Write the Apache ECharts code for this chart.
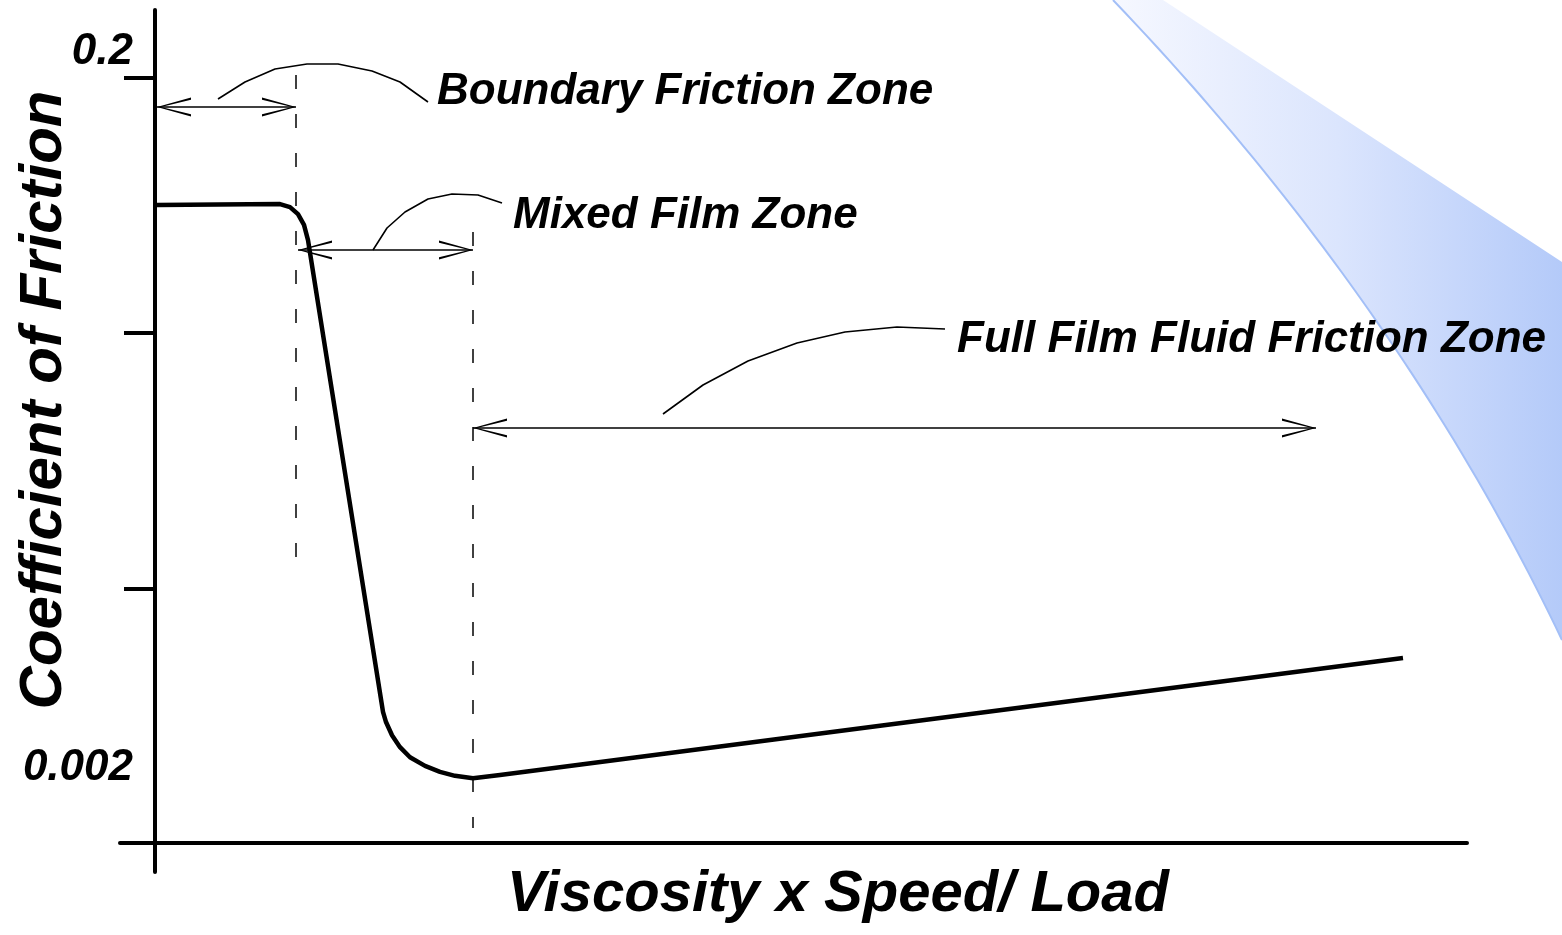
<!DOCTYPE html>
<html>
<head>
<meta charset="utf-8">
<title>Coefficient of Friction</title>
<script src="https://cdn.jsdelivr.net/npm/echarts@6.0.0/dist/echarts.min.js"></script>
<style>
  html, body { margin: 0; padding: 0; background: #fff; }
  #chart { width: 1562px; height: 935px; }
</style>
</head>
<body>
<div id="chart"></div>
<script>
// Stribeck curve: x in arbitrary units, y = coefficient of friction (log)
const curveX = [0.2, 12.5, 13.5, 14.3, 14.9, 15.3, 22.8, 23.1, 23.7, 24.5, 25.5, 27.0, 28.5, 30.0, 31.8, 34.5, 124.8]
const curveMu = [0.0857, 0.0862, 0.0845, 0.0806, 0.075, 0.0678, 0.00291, 0.00272, 0.00249, 0.0023, 0.00215, 0.00203, 0.00195, 0.0019, 0.00187, 0.00191, 0.00417]

// y axis ticks and labels
const tickValues = [0.2, 0.0365, 0.0066]
const tickLabelValues = [0.2, 0.002]
const tickLabels = ['0.2', '0.002']

// annotations (second, hidden y axis in arbitrary units)
const zoneX = [14.1, 31.8]
const zoneTop = [79.7, 64.0]
const zoneBottom = [29.4, 4.4]

const arrowFrom = [0.2, 14.3, 31.8]
const arrowTo = [14.1, 31.8, 116.1]
const arrowY = [76.5, 62.2, 44.4]

const leader1X = [6.3, 9.0, 12.0, 15.2, 18.3, 21.7, 24.5, 27.3]
const leader1Y = [77.3, 79.0, 80.3, 80.8, 80.8, 80.1, 79.0, 77.0]
const leader2X = [21.8, 23.2, 25.0, 27.3, 29.7, 32.3, 34.7]
const leader2Y = [62.2, 64.4, 66.0, 67.3, 67.8, 67.7, 66.9]
const leader3X = [50.8, 54.8, 59.3, 64.2, 69.0, 74.2, 79.0]
const leader3Y = [45.8, 48.7, 51.1, 52.9, 54.0, 54.5, 54.3]

const zoneNames = ['Boundary Friction Zone', 'Mixed Film Zone', 'Full Film Fluid Friction Zone']
const zoneLabelX = [28.2, 35.8, 80.2]
const zoneLabelY = [78.0, 65.6, 53.2]

const FONT = 'Liberation Sans, Arial, sans-serif'
const chevron = 'path://M50,0 L100,100 L88,100 L50,12 L12,100 L0,100 Z'

const zip = (xs, ys) => xs.map((x, i) => [x, ys[i]])

// decorative blue swoosh at the right
const band = []
for (let i = 0; i <= 50; i++) {
  const t = i / 50
  band.push([
    (1 - t) * (1 - t) * 1113 + 2 * (1 - t) * t * 1400 + t * t * 1562,
    2 * (1 - t) * t * 300 + t * t * 640
  ])
}

const chart = echarts.init(document.getElementById('chart'), null, { renderer: 'canvas' })

const leaderStyle = { color: '#000', width: 1.6 }

chart.setOption({
  animation: false,
  backgroundColor: '#fff',
  graphic: [
    {
      type: 'polygon',
      z: -1,
      silent: true,
      shape: { points: band.concat([[1562, 262], [1163, 0]]) },
      style: {
        fill: new echarts.graphic.LinearGradient(0, 0, 1, 0, [
          { offset: 0, color: '#f6f8ff' },
          { offset: 0.5, color: '#dbe5fd' },
          { offset: 1, color: '#b4caf9' }
        ])
      }
    },
    {
      type: 'polyline',
      z: -1,
      silent: true,
      shape: { points: band },
      style: { stroke: '#a3bff7', lineWidth: 2, fill: null }
    }
  ],
  grid: { left: 120, right: 95, top: 10, bottom: 63, containLabel: false, outerBoundsMode: 'none' },
  xAxis: {
    type: 'value',
    min: -3.5,
    max: 131.2,
    offset: -29,
    axisLine: { onZero: false, lineStyle: { color: '#000', width: 4 } },
    axisTick: { show: false },
    axisLabel: { show: false },
    splitLine: { show: false },
    name: 'Viscosity x Speed/ Load',
    nameLocation: 'middle',
    nameGap: 23,
    nameMoveOverlap: false,
    nameTextStyle: {
      fontFamily: FONT, fontSize: 58, fontWeight: 'bold', fontStyle: 'italic',
      color: '#000', padding: [0, 0, 0, 89]
    }
  },
  yAxis: [
    {
      type: 'log',
      min: 0.001,
      max: 0.3147,
      offset: -35,
      axisLine: { onZero: false, lineStyle: { color: '#000', width: 4 } },
      axisTick: { customValues: tickValues, length: 31, lineStyle: { color: '#000', width: 4 } },
      axisLabel: {
        customValues: tickLabelValues,
        margin: 22,
        formatter: (v) => {
          const i = Math.abs(v - 0.2) < 0.01 ? 0 : 1
          return i === 0 ? '{up|' + tickLabels[0] + '}' : '{lo|' + tickLabels[1] + '}'
        },
        rich: {
          up: { fontFamily: FONT, fontSize: 44, fontWeight: 'bold', fontStyle: 'italic', color: '#000', padding: [0, 0, 52, 0] },
          lo: { fontFamily: FONT, fontSize: 44, fontWeight: 'bold', fontStyle: 'italic', color: '#000' }
        }
      },
      splitLine: { show: false },
      name: 'Coefficient of Friction',
      nameLocation: 'middle',
      nameRotate: 90,
      nameGap: 81,
      nameMoveOverlap: false,
      nameTextStyle: {
        fontFamily: FONT, fontSize: 60, fontWeight: 'bold', fontStyle: 'italic',
        color: '#000', padding: [0, 0, 0, 82]
      }
    },
    { type: 'value', min: 0, max: 86.2, show: false }
  ],
  series: [
    {
      name: 'curve',
      type: 'line',
      data: zip(curveX, curveMu),
      symbol: 'none',
      z: 5,
      lineStyle: { color: '#000', width: 4.5, join: 'round' }
    },
    // zone boundaries
    ...zoneX.map((x, i) => ({
      type: 'line',
      yAxisIndex: 1,
      data: [[x, zoneTop[i]], [x, zoneBottom[i]]],
      symbol: 'none',
      lineStyle: { color: '#000', width: 1.5, type: [14, 25] }
    })),
    // leader curves
    ...[[leader1X, leader1Y], [leader2X, leader2Y], [leader3X, leader3Y]].map(([xs, ys]) => ({
      type: 'line',
      yAxisIndex: 1,
      data: zip(xs, ys),
      symbol: 'none',
      lineStyle: leaderStyle
    })),
    // double headed arrows
    {
      type: 'line',
      yAxisIndex: 1,
      data: [],
      markLine: {
        silent: true,
        symbol: [chevron, chevron],
        symbolSize: [19, 34],
        symbolOffset: [[0, 17], [0, 17]],
        label: { show: false },
        lineStyle: { color: '#000', width: 1.6, type: 'solid' },
        data: arrowFrom.map((x, i) => [
          { coord: [x, arrowY[i]] },
          { coord: [arrowTo[i], arrowY[i]] }
        ])
      }
    },
    // zone labels
    {
      type: 'scatter',
      yAxisIndex: 1,
      symbolSize: 0,
      z: 6,
      itemStyle: { opacity: 1 },
      data: zoneNames.map((n, i) => ({ name: n, value: [zoneLabelX[i], zoneLabelY[i]] })),
      label: {
        show: true,
        position: 'right',
        distance: 0,
        formatter: '{b}',
        fontFamily: FONT,
        fontSize: 44,
        fontWeight: 'bold',
        fontStyle: 'italic',
        color: '#000',
        opacity: 1
      }
    }
  ]
})
</script>
</body>
</html>
